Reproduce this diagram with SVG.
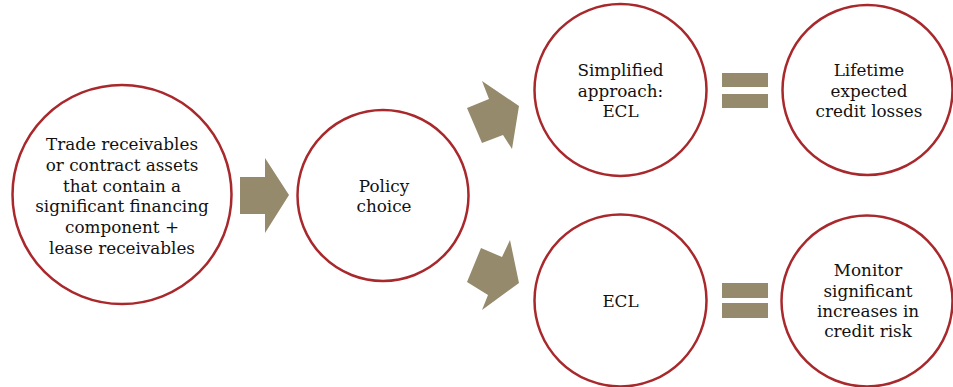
<svg xmlns="http://www.w3.org/2000/svg" width="953" height="387" viewBox="0 0 953 387">
<style>
.n{fill:#fff;stroke:#A8282C;stroke-width:2.5}
.a{fill:#958A6C}
.t{font-family:"DejaVu Serif","Liberation Serif",serif;font-size:16.8px;fill:#111;text-anchor:middle}
</style>
<rect width="953" height="387" fill="#fff"/>
<g id="connectors">
<polygon class="a" points="240,177 265,177 265,158 289,195 265,233 265,214 240,214"/>
<polygon class="a" points="467,108 489,99 482,81 519,106 512,149 503,135 482,143"/>
<polygon class="a" points="467,282 488,295 482,310 519,283 510,240 502,257 481,248"/>
<g id="eq1"><rect class="a" x="722" y="73" width="46" height="14"/><rect class="a" x="722" y="94" width="46" height="14"/></g>
<g id="eq2"><rect class="a" x="722" y="283" width="46" height="15"/><rect class="a" x="722" y="303" width="46" height="15"/></g>
</g>
<g id="n-trade"><circle class="n" cx="122" cy="194.5" r="109.5"/>
<text class="t" x="122" y="150">Trade receivables</text>
<text class="t" x="122" y="171">or contract assets</text>
<text class="t" x="122" y="191.5">that contain a</text>
<text class="t" x="122" y="212">significant financing</text>
<text class="t" x="122" y="233">component +</text>
<text class="t" x="122" y="253.5">lease receivables</text></g>
<g id="n-policy"><circle class="n" cx="383" cy="195.5" r="85.5"/>
<text class="t" x="384" y="191.7">Policy</text>
<text class="t" x="384" y="211.7">choice</text></g>
<g id="n-simplified"><circle class="n" cx="620.5" cy="90" r="86"/>
<text class="t" x="620.5" y="76">Simplified</text>
<text class="t" x="620.5" y="96.5">approach:</text>
<text class="t" x="620.5" y="116.7">ECL</text></g>
<g id="n-ecl"><circle class="n" cx="620.5" cy="300.5" r="86"/>
<text class="t" x="620.5" y="306.7">ECL</text></g>
<g id="n-lifetime"><circle class="n" cx="867.5" cy="90" r="85"/>
<text class="t" x="869" y="76">Lifetime</text>
<text class="t" x="869" y="96.5">expected</text>
<text class="t" x="869" y="116.7">credit losses</text></g>
<g id="n-monitor"><circle class="n" cx="867" cy="301" r="85.5"/>
<text class="t" x="868" y="276">Monitor</text>
<text class="t" x="868" y="296.7">significant</text>
<text class="t" x="868" y="316.7">increases in</text>
<text class="t" x="868" y="336.7">credit risk</text></g>
</svg>
